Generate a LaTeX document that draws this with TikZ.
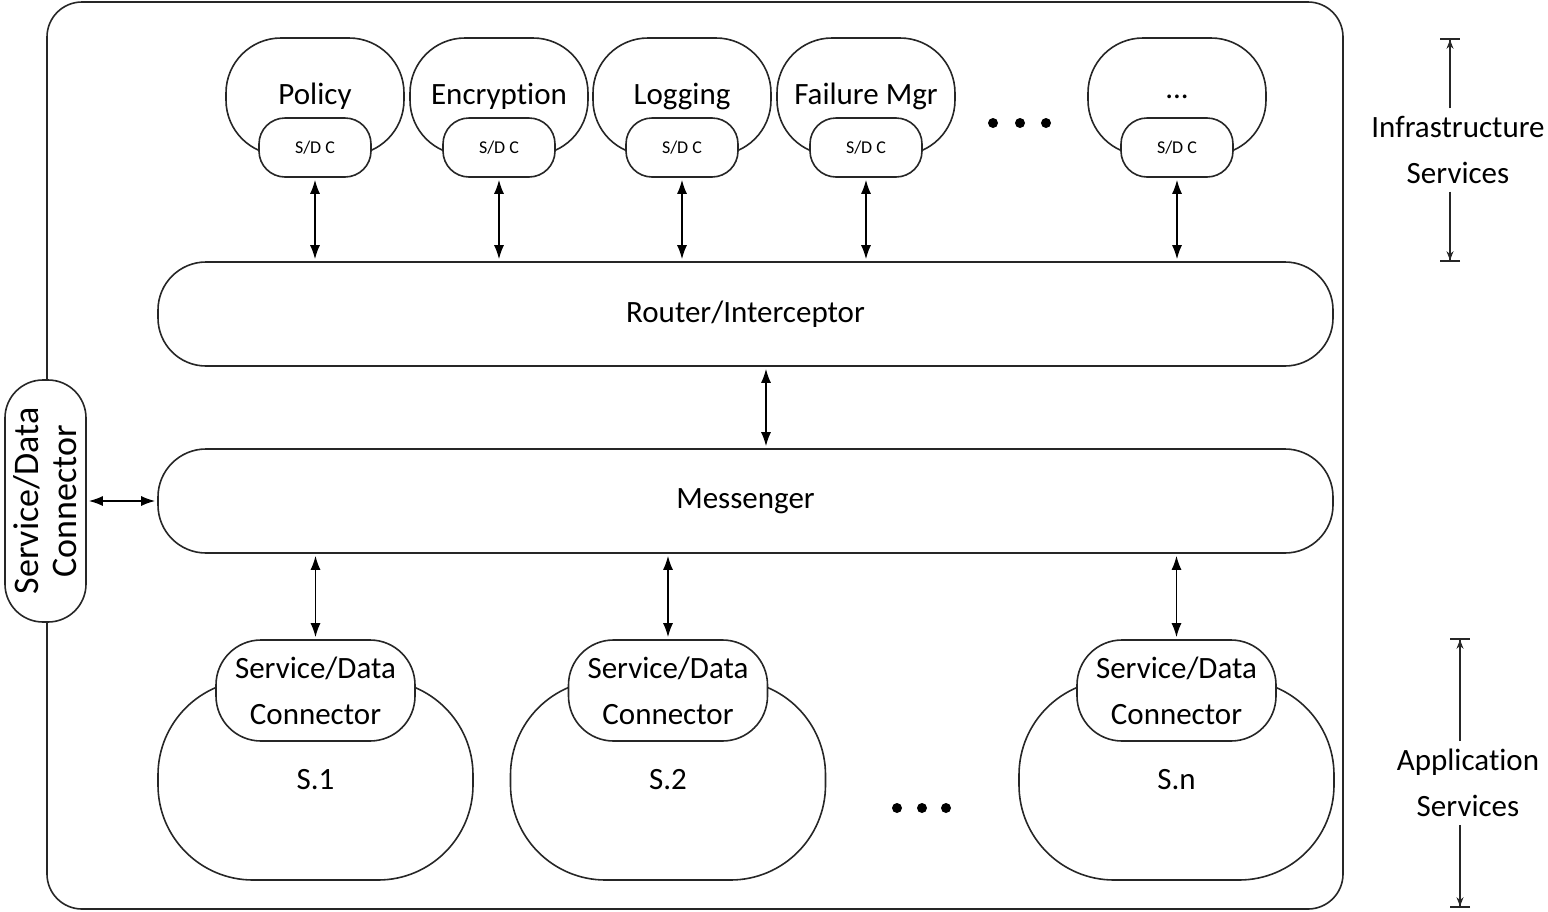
\documentclass[tikz,border=0pt]{standalone}
\usepackage{fontspec}
\setmainfont{Carlito}[Ligatures=NoCommon]
\usetikzlibrary{arrows.meta}
\newcommand\tdots{...}
\begin{document}
\begin{tikzpicture}[x=1pt,y=-1pt,
  every node/.style={font=\fontsize{31}{46}\selectfont, align=center, inner sep=0pt, text=black},
  shapeline/.style={draw=black!85, line width=1.6pt},
  topblob/.style={shapeline, rounded corners=55pt, minimum width=178pt, minimum height=117pt},
  sdcbox/.style={shapeline, fill=white, rounded corners=26pt, minimum width=112pt, minimum height=59pt, font=\fontsize{18}{20}\selectfont},
  appblob/.style={shapeline, rounded corners=95pt, minimum width=315pt, minimum height=200pt},
  connbox/.style={shapeline, fill=white, rounded corners=45pt, minimum width=199pt, minimum height=101pt},
  busbox/.style={shapeline, rounded corners=48pt, minimum width=1175pt, minimum height=104pt},
  biarrow/.style={line width=1.5pt, draw=black, >={Latex[length=14pt,width=10pt]}, <->, shorten <=2pt, shorten >=2pt},
  dimline/.style={line width=1.1pt, draw=black!85, -{Stealth[length=9pt,width=7pt] Bar[width=20pt,line width=1.8pt]}},
  sidelabel/.style={outer sep=8pt}
]
\useasboundingbox (0,0) rectangle (1548,911);

% outer frame
\node[shapeline, rounded corners=35pt, minimum width=1296pt, minimum height=907pt] (outer) at (695,455.5) {};

% buses
\node[busbox] (router) at (745.5,314) {Router/Interceptor};
\node[busbox] (msg) at (745.5,501) {Messenger};
\coordinate (rm) at (766,410);
\draw[biarrow] (router.south -| rm) -- (msg.north -| rm);

% infrastructure services
\foreach \n/\x/\t in {pol/315/Policy, enc/499/Encryption, log/682/Logging, fail/866/Failure Mgr, more/1177/\tdots}{
  \node[topblob] (\n) at (\x,96.5) {\t};
  \node[sdcbox] (\n-s) at (\x,147.5) {S/D C};
  \draw[biarrow] (\n-s.south) -- (\n-s.south |- router.north);
}
\fill (993,123) circle (5pt);
\fill (1020,123) circle (5pt);
\fill (1046,123) circle (5pt);

% application services
\foreach \n/\x/\t in {s1/315.5/S.1, s2/668/S.2, sn/1176.5/S.n}{
  \node[appblob] (\n) at (\x,780) {\t};
  \node[connbox] (\n-c) at (\x,690.5) {Service/Data\\Connector};
  \draw[biarrow] (msg.south -| \n-c.north) -- (\n-c.north);
}
\fill (897,808) circle (5pt);
\fill (922,808) circle (5pt);
\fill (946,808) circle (5pt);

% left connector
\node[shapeline, fill=white, rotate=90, minimum width=242pt, minimum height=81pt, rounded corners=38pt, font=\fontsize{36}{38}\selectfont] (lc) at (45.5,501) {Service/Data\\Connector};
\draw[biarrow] (lc.south) -- (msg.west);

% side labels
\node[sidelabel] (inf) at (1458,150) {Infrastructure\\Services};
\coordinate (inftop) at (1450,38);
\coordinate (infbot) at (1450,262);
\draw[dimline] (inf.north -| inftop) -- (inftop);
\draw[dimline] (inf.south -| infbot) -- (infbot);

\node[sidelabel] (app) at (1468,783) {Application\\Services};
\coordinate (apptop) at (1460,638);
\coordinate (appbot) at (1460,908);
\draw[dimline] (app.north -| apptop) -- (apptop);
\draw[dimline] (app.south -| appbot) -- (appbot);
\end{tikzpicture}
\end{document}
